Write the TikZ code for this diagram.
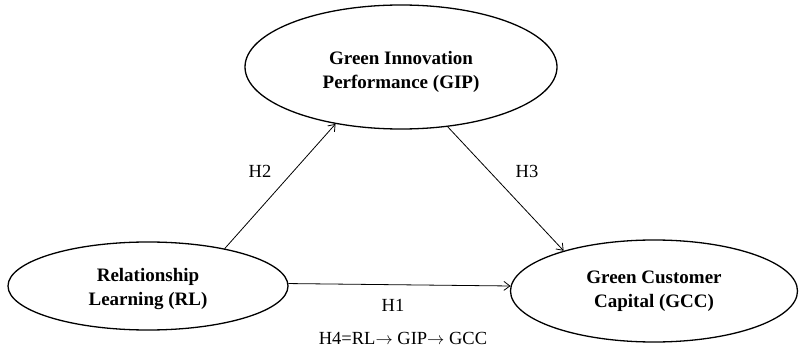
\documentclass[tikz,border=0pt]{standalone}
\usepackage{fontspec}
\setmainfont{Liberation Serif}
\usetikzlibrary{shapes.geometric,arrows.meta}
\newcommand{\lowertxt}[2]{\raisebox{-#1}[\height][\depth]{\begin{tabular}{@{}c@{}}#2\end{tabular}}}
\tikzset{
  construct/.style={draw, ellipse, line width=1.3pt, inner sep=0pt, align=center,
    font=\fontsize{19}{24}\selectfont\bfseries},
  link/.style={draw, line width=0.8pt, -{Straight Barb[length=6pt,width=9pt]}},
  hlabel/.style={font=\fontsize{18.5}{21}\selectfont}
}
\begin{document}
\begin{tikzpicture}[x=1pt,y=-1pt]
\useasboundingbox (0,0) rectangle (800,350);
\node[construct, minimum width=312pt, minimum height=124pt] (GIP) at (401,67) {\lowertxt{5pt}{Green Innovation\\Performance (GIP)}};
\node[construct, minimum width=280pt, minimum height=88pt] (RL) at (148,286) {\lowertxt{3pt}{Relationship\\Learning (RL)}};
\node[construct, minimum width=287pt, minimum height=102pt] (GCC) at (654,291) {Green Customer\\Capital (GCC)};
\draw[link] (RL.26) -- (GIP.221.6);
\draw[link] (GIP.-52) -- (GCC.156.7);
\draw[link] (RL.1) -- (GCC.178.5);
\node[hlabel] (h2) at (260,171) {H2};
\node[hlabel] (h3) at (527,171) {H3};
\node[hlabel] (h1) at (393,305) {H1};
\node[hlabel] (h4) at (403,338) {H4=RL$\rightarrow$ GIP$\rightarrow$ GCC};
\end{tikzpicture}
\end{document}
